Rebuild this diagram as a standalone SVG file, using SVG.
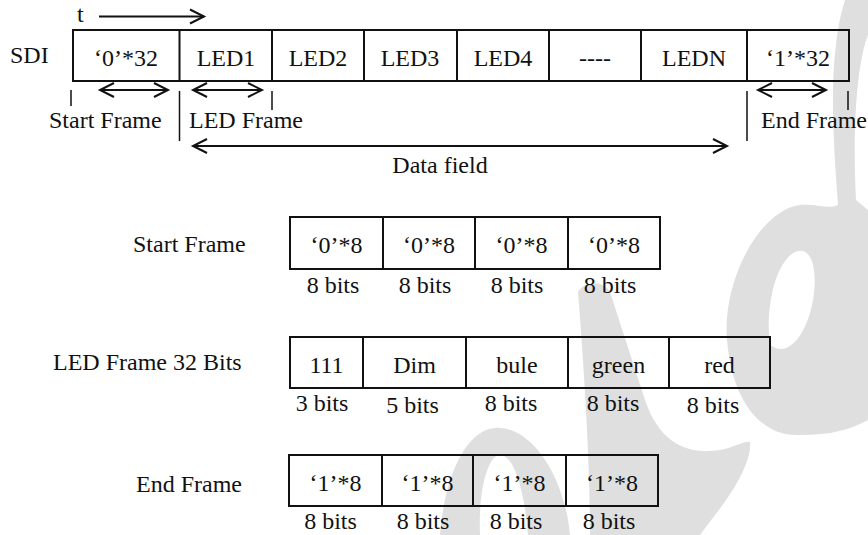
<svg xmlns="http://www.w3.org/2000/svg" width="868" height="535" viewBox="0 0 868 535">
<style>
text{font-family:"Liberation Serif","Times New Roman",serif;font-size:24px;fill:#111}
.c{text-anchor:middle}
.box{fill:none;stroke:#111;stroke-width:2}
.ln{stroke:#111;stroke-width:2;fill:none}
.tk{stroke:#111;stroke-width:1.5}
.wm{fill:#dfdfdf;stroke:none}
</style>
<defs>
<marker id="ah" markerUnits="userSpaceOnUse" markerWidth="20" markerHeight="20" viewBox="-16 -10 20 20" refX="0" refY="0" orient="auto-start-reverse">
<path d="M-14,-7 L0,0 L-14,7" fill="none" stroke="#111" stroke-width="2"/>
</marker>
</defs>
<g id="watermark">
<path class="wm" fill-rule="evenodd" d="M440,535 C445,470 470,425 500,428 C535,430 565,480 570,535 Z M480,535 C478,490 488,455 500,455 C515,455 525,495 528,535 Z"/>
<path class="wm" d="M578,292 C586,280 604,281 610,292 L645,400 C660,445 690,455 720,450 C735,447 745,440 750,442 C752,460 735,490 715,515 L700,535 L590,535 C590,470 585,380 578,292 Z"/>
<path class="wm" fill-rule="evenodd" d="M727,340 C722,280 760,210 800,205 C815,203 828,210 838,205 C834,150 830,90 836,45 C838,25 842,10 845,0 L868,0 L868,35 C858,60 852,120 856,200 L868,210 L868,420 C850,430 830,435 800,435 C760,437 732,400 727,340 Z M770,345 C765,310 775,262 795,252 C812,245 818,270 813,300 C808,330 790,360 770,345 Z"/>
</g>
<g id="labels">
<text x="10" y="63">SDI</text>
<text x="77" y="22">t</text>
<text x="49" y="128">Start Frame</text>
<text x="189" y="128">LED Frame</text>
<text x="761" y="128">End Frame</text>
<text class="c" x="440" y="173">Data field</text>
<text x="133" y="252">Start Frame</text>
<text x="53" y="370">LED Frame 32 Bits</text>
<text x="136" y="492">End Frame</text>
</g>
<g id="sdi-row">
<rect class="box" x="73" y="30" width="776" height="51"/>
<path class="ln" d="M179.5,30V81M272,30V81M364,30V81M457,30V81M549,30V81M641,30V81M747,30V81"/>
<text class="c" x="126" y="66">‘0’*32</text>
<text class="c" x="226" y="66">LED1</text>
<text class="c" x="318" y="66">LED2</text>
<text class="c" x="410" y="66">LED3</text>
<text class="c" x="503" y="66">LED4</text>
<text class="c" x="595" y="66">----</text>
<text class="c" x="694" y="66">LEDN</text>
<text class="c" x="798" y="66">‘1’*32</text>
</g>
<g id="connectors">
<line class="ln" x1="99" y1="16.5" x2="204" y2="16.5" marker-end="url(#ah)"/>
<line class="ln" x1="100" y1="90" x2="168" y2="90" marker-start="url(#ah)" marker-end="url(#ah)"/>
<line class="ln" x1="193" y1="90" x2="262" y2="90" marker-start="url(#ah)" marker-end="url(#ah)"/>
<line class="ln" x1="758" y1="90" x2="826" y2="90" marker-start="url(#ah)" marker-end="url(#ah)"/>
<line class="ln" x1="193" y1="146" x2="727" y2="146" marker-start="url(#ah)" marker-end="url(#ah)"/>
<line class="tk" x1="71" y1="90" x2="71" y2="106"/>
<line class="tk" x1="179.5" y1="91" x2="179.5" y2="141"/>
<line class="tk" x1="272" y1="91" x2="272" y2="110"/>
<line class="tk" x1="747" y1="91" x2="747" y2="141"/>
<line class="tk" x1="848" y1="91" x2="848" y2="110"/>
</g>
<g id="start-frame">
<rect class="box" x="290" y="217" width="370" height="52"/>
<path class="ln" d="M383,217V269M475,217V269M568,217V269"/>
<text class="c" x="336.5" y="253">‘0’*8</text>
<text class="c" x="429" y="253">‘0’*8</text>
<text class="c" x="521.5" y="253">‘0’*8</text>
<text class="c" x="614" y="253">‘0’*8</text>
<text class="c" x="333" y="293">8 bits</text>
<text class="c" x="425" y="293">8 bits</text>
<text class="c" x="517" y="293">8 bits</text>
<text class="c" x="610" y="293">8 bits</text>
</g>
<g id="led-frame">
<rect class="box" x="290" y="337" width="480" height="51"/>
<path class="ln" d="M363,337V388M466,337V388M568,337V388M669,337V388"/>
<text class="c" x="326.5" y="373">111</text>
<text class="c" x="414.5" y="373">Dim</text>
<text class="c" x="517" y="373">bule</text>
<text class="c" x="618.5" y="373">green</text>
<text class="c" x="719.5" y="373">red</text>
<text class="c" x="322" y="411">3 bits</text>
<text class="c" x="412.5" y="413">5 bits</text>
<text class="c" x="511" y="411">8 bits</text>
<text class="c" x="613" y="411">8 bits</text>
<text class="c" x="713" y="413">8 bits</text>
</g>
<g id="end-frame">
<rect class="box" x="289" y="455" width="369" height="51"/>
<path class="ln" d="M382,455V506M473,455V506M566,455V506"/>
<text class="c" x="335.5" y="491">‘1’*8</text>
<text class="c" x="427.5" y="491">‘1’*8</text>
<text class="c" x="519.5" y="491">‘1’*8</text>
<text class="c" x="612" y="491">‘1’*8</text>
<text class="c" x="330.5" y="529">8 bits</text>
<text class="c" x="423" y="529">8 bits</text>
<text class="c" x="516" y="529">8 bits</text>
<text class="c" x="609" y="529">8 bits</text>
</g>
</svg>
